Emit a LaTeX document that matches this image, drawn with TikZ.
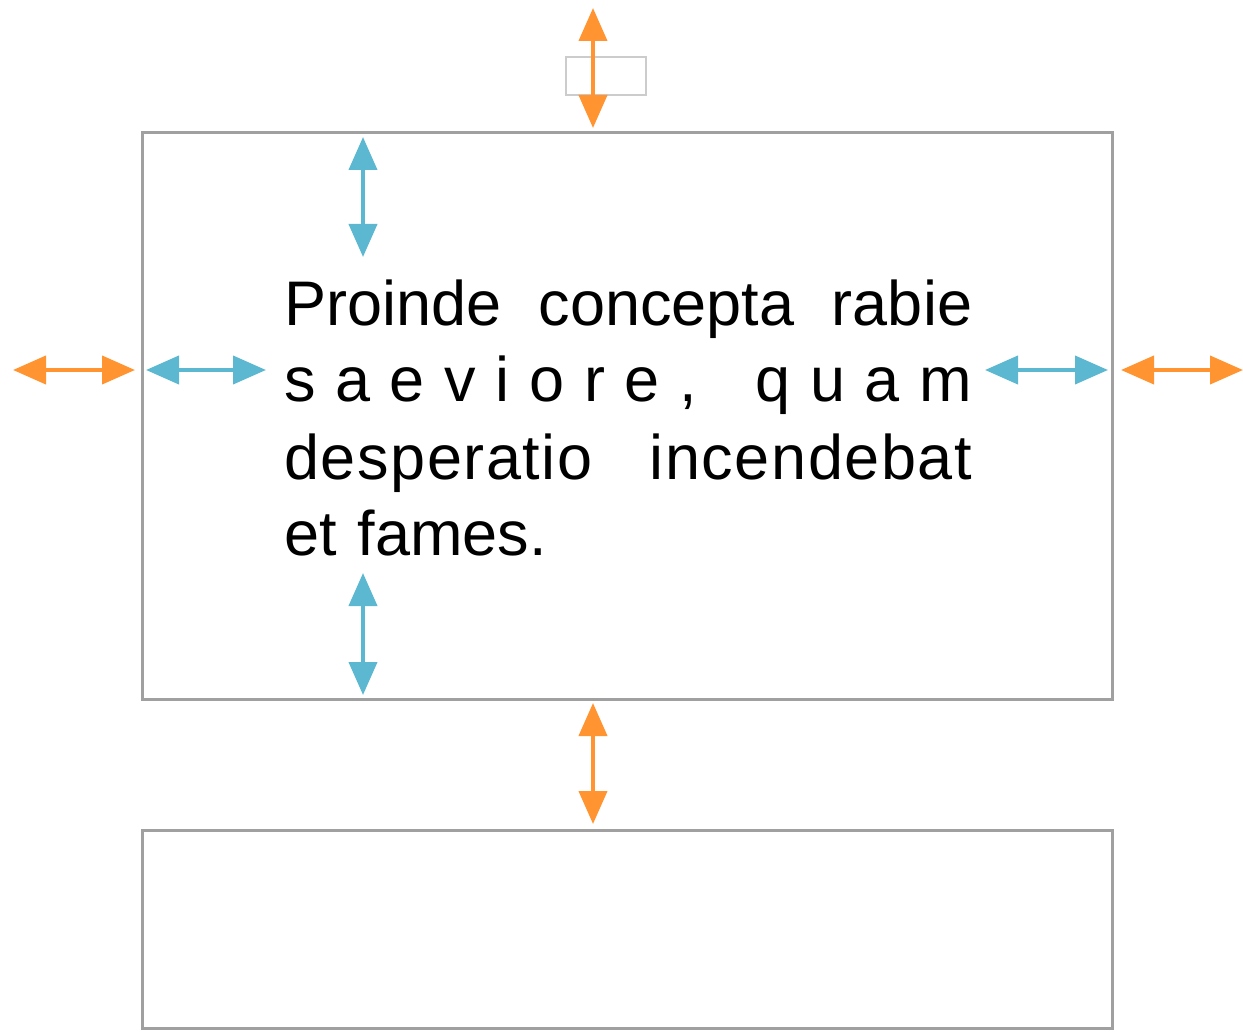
\documentclass[tikz,border=0pt]{standalone}
\usepackage{fontspec}
\setmainfont{Liberation Sans}
\usepackage{xcolor}
\usetikzlibrary{arrows.meta, positioning}
\definecolor{arrorange}{RGB}{255,148,48}
\definecolor{arrblue}{RGB}{92,184,208}
\definecolor{boxgray}{RGB}{160,160,160}
\tikzset{
  frame/.style={draw=boxgray,line width=3pt,rectangle,inner sep=0pt,outer sep=0pt},
  outerarrow/.style={arrorange,line width=4pt,{Triangle[length=33pt,width=28pt]}-{Triangle[length=33pt,width=28pt]}},
  innerarrow/.style={arrblue,line width=4pt,{Triangle[length=33pt,width=28pt]}-{Triangle[length=33pt,width=28pt]}}
}
\begin{document}
\begin{tikzpicture}[x=1pt,y=-1pt]
    \useasboundingbox (0,0) rectangle (1243,1035);
    \node[frame,minimum width=970pt,minimum height=566pt] (B) at (627,416) {};
    \node[frame,minimum width=970pt,minimum height=198pt] (N) at (627,929) {};
    \node[draw=gray!40,line width=1.5pt,rectangle,inner sep=0pt,minimum width=80pt,minimum height=38pt] (M) at (606,76) {};
    \node[anchor=base west,inner sep=0pt,text width=688pt,align=left,font=\fontsize{63}{77}\selectfont] (T) at (284,325)
      {\makebox[688pt][s]{Proinde\hfill concepta\hfill rabie}\\
       \makebox[688pt][s]{s\hfill a\hfill e\hfill v\hfill i\hfill o\hfill r\hfill e\hfill ,\hfill\hfill\hfill q\hfill u\hfill a\hfill m}\\
       \makebox[688pt][s]{\addfontfeature{LetterSpace=2.5}desperatio\hfill incendebat}\\
       et fames.};

    % outer (margin) arrows
    \coordinate (ot1) at (593,8);    \coordinate (ot2) at (593,128);
    \coordinate (ob1) at (593,703);  \coordinate (ob2) at (593,824);
    \coordinate (ol1) at (13,370);   \coordinate (ol2) at (135,370);
    \coordinate (or1) at (1121,370); \coordinate (or2) at (1243,370);
    \draw[outerarrow] (ot1) -- (ot2);
    \draw[outerarrow] (ob1) -- (ob2);
    \draw[outerarrow] (ol1) -- (ol2);
    \draw[outerarrow] (or1) -- (or2);

    % inner (padding) arrows
    \coordinate (it1) at (363,137);  \coordinate (it2) at (363,257);
    \coordinate (ib1) at (363,573);  \coordinate (ib2) at (363,695);
    \coordinate (il1) at (146,370);  \coordinate (il2) at (266,370);
    \coordinate (ir1) at (985,370);  \coordinate (ir2) at (1108,370);
    \draw[innerarrow] (it1) -- (it2);
    \draw[innerarrow] (ib1) -- (ib2);
    \draw[innerarrow] (il1) -- (il2);
    \draw[innerarrow] (ir1) -- (ir2);
\end{tikzpicture}
\end{document}
